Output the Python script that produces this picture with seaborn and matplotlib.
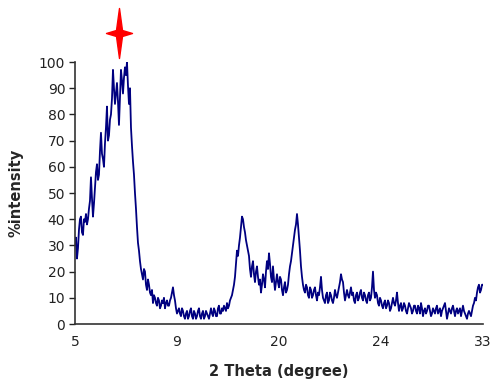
import matplotlib
matplotlib.use("Agg")
import matplotlib.pyplot as plt
import numpy as np
import pandas as pd
import seaborn as sns
from matplotlib.path import Path

# intensity, one value per sample along the axis
intensity = [
    30, 33, 25, 29, 36, 40, 41, 35, 34, 40, 39, 42, 38, 40, 44, 47, 56, 48, 41, 46,
    52, 58, 61, 55, 57, 66, 73, 65, 63, 60, 69, 75, 83, 70, 72, 78, 80, 86, 97, 90,
    84, 88, 92, 85, 76, 87, 97, 93, 88, 94, 98, 95, 100, 91, 84, 90, 75, 68, 62, 57,
    50, 44, 37, 31, 28, 24, 21, 19, 17, 21, 20, 15, 13, 17, 15, 12, 11, 13, 8, 11,
    10, 8, 7, 10, 9, 6, 7, 9, 8, 10, 6, 8, 9, 7, 7, 9, 10, 12, 14, 11,
    9, 6, 4, 5, 6, 4, 3, 6, 5, 3, 2, 4, 5, 2, 3, 5, 6, 3, 2, 5,
    4, 2, 3, 5, 6, 3, 2, 4, 5, 2, 3, 5, 4, 3, 2, 4, 6, 4, 3, 6,
    5, 3, 3, 6, 7, 4, 4, 6, 5, 7, 6, 5, 8, 6, 7, 9, 10, 11, 13, 15,
    18, 23, 28, 26, 30, 33, 37, 41, 40, 37, 35, 32, 30, 28, 26, 21, 18, 22, 24, 19,
    16, 20, 22, 18, 15, 17, 12, 15, 19, 17, 14, 20, 24, 21, 27, 23, 18, 16, 22, 17,
    13, 16, 19, 16, 14, 18, 17, 13, 11, 14, 16, 12, 13, 15, 19, 22, 24, 27, 30, 33,
    36, 38, 42, 38, 33, 28, 22, 18, 15, 13, 12, 15, 14, 11, 10, 14, 13, 10, 11, 13,
    14, 11, 9, 12, 11, 14, 18, 13, 10, 9, 8, 11, 12, 8, 9, 12, 11, 9, 8, 10,
    13, 11, 10, 12, 14, 16, 19, 17, 16, 12, 9, 11, 13, 11, 10, 12, 14, 11, 12, 9,
    8, 11, 12, 9, 10, 12, 13, 10, 9, 12, 11, 9, 8, 11, 12, 9, 10, 14, 20, 13,
    10, 12, 11, 8, 7, 10, 9, 7, 6, 8, 9, 6, 7, 9, 8, 5, 6, 8, 10, 8,
    7, 9, 12, 8, 5, 7, 8, 5, 6, 8, 7, 5, 4, 6, 8, 7, 6, 4, 5, 7,
    7, 5, 4, 7, 6, 4, 8, 6, 3, 5, 6, 4, 5, 7, 7, 5, 3, 4, 6, 5,
    4, 6, 7, 4, 5, 6, 3, 5, 6, 7, 8, 5, 2, 4, 6, 5, 4, 6, 7, 5,
    3, 5, 6, 4, 5, 6, 3, 5, 7, 5, 4, 3, 2, 4, 5, 4, 3, 5, 7, 8,
    10, 9, 12, 14, 15, 12, 13, 15, 15,
]
tick_labels = ["5", "9", "20", "24", "33"]
peak_index = 44
star_height = 111

df = pd.DataFrame({"pos": np.arange(len(intensity)), "intensity": intensity})
n = len(intensity) - 1

sns.set_style("white")
plt.rcParams["font.family"] = ["DejaVu Sans"]

fig = plt.figure(figsize=(4.91, 3.83), dpi=100)
ax = fig.add_axes([0.1527, 0.154, 0.831, 0.684])

sns.lineplot(data=df, x="pos", y="intensity", ax=ax, color="#000080", linewidth=1.3)

# red four pointed star over the main peak
star = Path([(0, 1), (0.12, 0.12), (0.52, 0), (0.12, -0.12), (0, -1), (-0.12, -0.12),
             (-0.52, 0), (-0.12, 0.12), (0, 1)], closed=True)
ax.plot([peak_index], [star_height], marker=star, markersize=36, color="red",
        linestyle="none", clip_on=False)

ax.set_xlim(0, n)
ax.set_ylim(0, 100)
ax.set_xticks([0, n / 4, n / 2, 3 * n / 4, n])
ax.set_xticklabels(tick_labels)
ax.set_yticks(range(0, 101, 10))
ax.tick_params(axis="x", length=0, pad=8, labelsize=10, colors="#222222")
ax.tick_params(axis="y", length=4, width=1, pad=3, labelsize=10, colors="#222222",
               direction="out", left=True)

for side in ["top", "right"]:
    ax.spines[side].set_visible(False)
for side in ["left", "bottom"]:
    ax.spines[side].set_color("#333333")
    ax.spines[side].set_linewidth(1.2)

ax.set_xlabel("2 Theta (degree)", fontsize=10.5, fontweight="bold", labelpad=11)
ax.set_ylabel("%intensity", fontsize=10.5, fontweight="bold", labelpad=11)

fig.savefig("out.png", dpi=100)
